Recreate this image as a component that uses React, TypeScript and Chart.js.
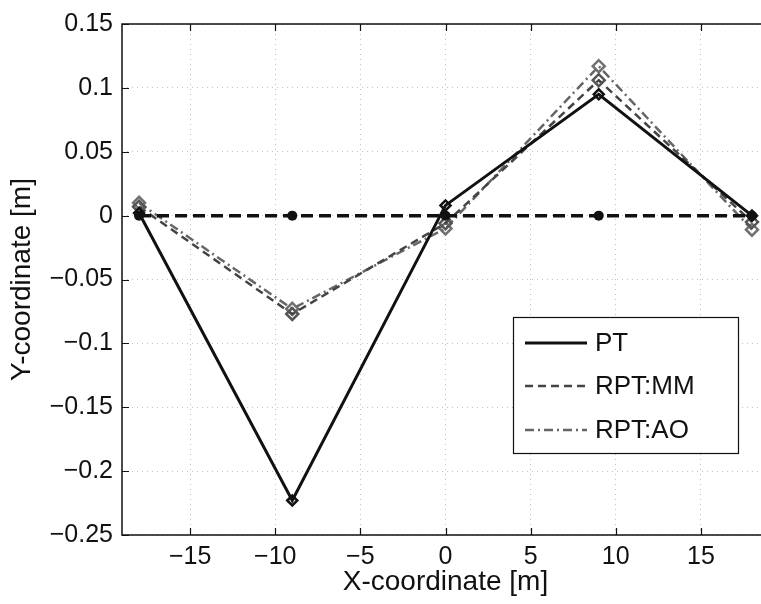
import React, { useEffect, useRef } from "react";
import { Chart, registerables } from "chart.js";

Chart.register(...registerables);

// ---- data ----
const xPositions = [-18, -9, 0, 9, 18];
const nominalValues = [0, 0, 0, 0, 0];
const ptValues = [0.002, -0.223, 0.008, 0.095, 0.0];
const mmValues = [0.007, -0.077, -0.006, 0.106, -0.005];
const aoValues = [0.01, -0.073, -0.01, 0.117, -0.011];

const xTicks = [-15, -10, -5, 0, 5, 10, 15];
const xTickLabels = ["\u221215", "\u221210", "\u22125", "0", "5", "10", "15"];
const yTicks = [-0.25, -0.2, -0.15, -0.1, -0.05, 0, 0.05, 0.1, 0.15];
const yTickLabels = ["\u22120.25", "\u22120.2", "\u22120.15", "\u22120.1", "\u22120.05", "0", "0.05", "0.1", "0.15"];

const seriesNames = ["PT", "RPT:MM", "RPT:AO"];
const xTitle = "X-coordinate [m]";
const yTitle = "Y-coordinate [m]";

const FONT = "'Liberation Sans', Arial, Helvetica, sans-serif";

const toPoints = (vals: number[]) => xPositions.map((x, i) => ({ x, y: vals[i] }));

const framePlugin = {
  id: "matlabFrame",
  afterDatasetsDraw(chart: any) {
    const { ctx, chartArea: a, scales } = chart;
    ctx.save();
    ctx.strokeStyle = "#111";
    ctx.lineWidth = 1.5;
    ctx.strokeRect(a.left, a.top, a.right - a.left, a.bottom - a.top);
    const len = 7;
    ctx.lineWidth = 1.2;
    ctx.beginPath();
    xTicks.forEach((v) => {
      const px = Math.round(scales.x.getPixelForValue(v)) + 0.5;
      ctx.moveTo(px, a.bottom);
      ctx.lineTo(px, a.bottom - len);
      ctx.moveTo(px, a.top);
      ctx.lineTo(px, a.top + len);
    });
    yTicks.forEach((v) => {
      const py = Math.round(scales.y.getPixelForValue(v)) + 0.5;
      ctx.moveTo(a.left, py);
      ctx.lineTo(a.left + len, py);
      ctx.moveTo(a.right, py);
      ctx.lineTo(a.right - len, py);
    });
    ctx.stroke();
    ctx.restore();
  },
};

const legendPlugin = {
  id: "boxLegend",
  afterDraw(chart: any) {
    const { ctx, chartArea: a } = chart;
    const left = a.right - 256;
    const top = a.bottom - 218;
    const w = 225;
    const h = 136;
    ctx.save();
    ctx.fillStyle = "#fff";
    ctx.fillRect(left, top, w, h);
    ctx.strokeStyle = "#111";
    ctx.lineWidth = 1.2;
    ctx.strokeRect(left + 0.5, top + 0.5, w, h);
    const rows = [26, 69, 113];
    const dsIdx = [0, 2, 3];
    ctx.font = `26px ${FONT}`;
    ctx.textBaseline = "middle";
    ctx.textAlign = "left";
    rows.forEach((ry, i) => {
      const ds = chart.data.datasets[dsIdx[i]];
      const y = top + ry;
      ctx.beginPath();
      ctx.setLineDash(ds.borderDash || []);
      ctx.strokeStyle = ds.borderColor;
      ctx.lineWidth = ds.borderWidth;
      ctx.moveTo(left + 12, y);
      ctx.lineTo(left + 74, y);
      ctx.stroke();
      ctx.setLineDash([]);
      ctx.fillStyle = "#111";
      ctx.fillText(seriesNames[i], left + 82, y + 1);
    });
    ctx.restore();
  },
};

export default function App() {
  const ref = useRef<HTMLCanvasElement | null>(null);

  useEffect(() => {
    if (!ref.current) return;
    const chart = new Chart(ref.current, {
      type: "line",
      data: {
        datasets: [
          {
            label: seriesNames[0],
            data: toPoints(ptValues),
            borderColor: "#111",
            borderWidth: 3,
            pointStyle: "rectRot",
            pointRadius: 5,
            pointBorderWidth: 2.5,
            pointBorderColor: "#111",
            pointBackgroundColor: "rgba(0,0,0,0)",
            tension: 0,
          },
          {
            label: "Nominal",
            data: toPoints(nominalValues),
            borderColor: "#111",
            borderWidth: 3.5,
            borderDash: [12, 6],
            pointStyle: "circle",
            pointRadius: 5,
            pointBorderWidth: 0,
            pointBackgroundColor: "#111",
            tension: 0,
          },
          {
            label: seriesNames[1],
            data: toPoints(mmValues),
            borderColor: "#444",
            borderWidth: 2.5,
            borderDash: [8, 5],
            pointStyle: "rectRot",
            pointRadius: 6,
            pointBorderWidth: 2.5,
            pointBorderColor: "#555",
            pointBackgroundColor: "rgba(0,0,0,0)",
            tension: 0,
          },
          {
            label: seriesNames[2],
            data: toPoints(aoValues),
            borderColor: "#666",
            borderWidth: 2.5,
            borderDash: [9, 4, 2, 4],
            pointStyle: "rectRot",
            pointRadius: 6,
            pointBorderWidth: 2.5,
            pointBorderColor: "#707070",
            pointBackgroundColor: "rgba(0,0,0,0)",
            tension: 0,
          },
        ],
      },
      options: {
        animation: false,
        responsive: false,
        devicePixelRatio: 1,
        layout: { padding: { top: 19, right: 11, left: 0, bottom: 0 } },
        plugins: { legend: { display: false }, tooltip: { enabled: false } },
        scales: {
          x: {
            type: "linear",
            min: -19,
            max: 19,
            afterBuildTicks: (s: any) => {
              s.ticks = xTicks.map((v) => ({ value: v }));
            },
            afterFit: (s: any) => {
              s.height = 69;
            },
            ticks: {
              padding: 7,
              color: "#111",
              font: { size: 25, family: FONT },
              callback: (v: any) => {
                const i = xTicks.indexOf(Number(v));
                return i >= 0 ? xTickLabels[i] : "";
              },
            },
            grid: { color: "#c2c2c2", lineWidth: 1, drawTicks: false },
            border: { display: false, dash: [1, 4] },
            title: {
              display: true,
              text: xTitle,
              color: "#111",
              font: { size: 28, family: FONT },
              padding: { top: 5, bottom: 5 },
            },
          },
          y: {
            type: "linear",
            min: -0.25,
            max: 0.15,
            afterBuildTicks: (s: any) => {
              s.ticks = yTicks.map((v) => ({ value: v }));
            },
            afterFit: (s: any) => {
              s.width = 122;
            },
            ticks: {
              padding: 9,
              color: "#111",
              font: { size: 25, family: FONT },
              callback: (v: any) => {
                const i = yTicks.findIndex((t) => Math.abs(t - Number(v)) < 1e-9);
                return i >= 0 ? yTickLabels[i] : "";
              },
            },
            grid: { color: "#c2c2c2", lineWidth: 1, drawTicks: false },
            border: { display: false, dash: [1, 4] },
            title: {
              display: true,
              text: yTitle,
              color: "#111",
              font: { size: 28, family: FONT },
              padding: { top: 5, bottom: 5 },
            },
          },
        },
      } as any,
      plugins: [framePlugin, legendPlugin],
    });
    return () => chart.destroy();
  }, []);

  return (
    <div
      style={{
        position: "absolute",
        left: 0,
        top: 0,
        width: 761,
        height: 604,
        overflow: "hidden",
        background: "#fff",
      }}
    >
      <canvas ref={ref} width={780} height={604} style={{ display: "block" }} />
    </div>
  );
}
